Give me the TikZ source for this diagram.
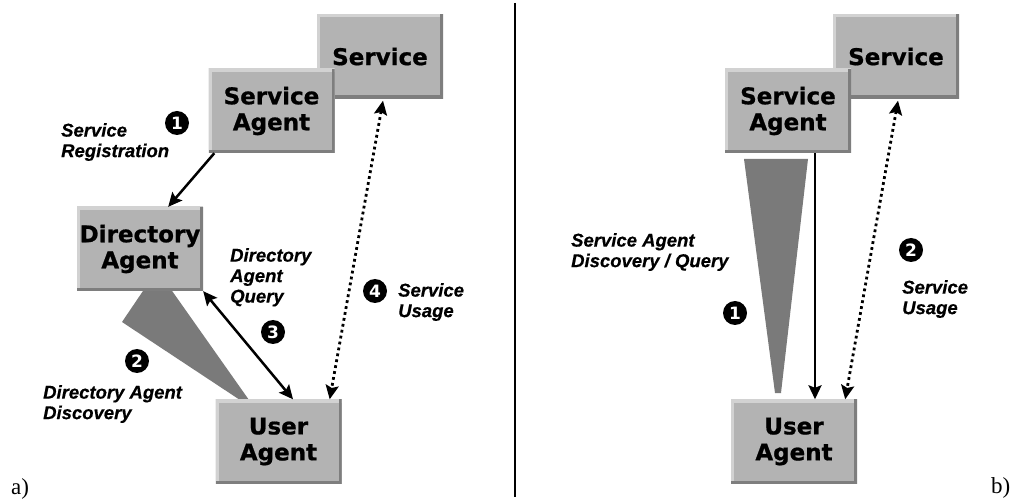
\documentclass[tikz,border=0pt]{standalone}
\usepackage{fontspec}
\usetikzlibrary{arrows.meta,calc}
\newfontfamily\dvfont{DejaVu Sans}[FakeBold=0.8]
\newfontfamily\libfont{Liberation Sans}[FakeBold=0.5]
\newfontfamily\numfont{DejaVu Sans}
\newfontfamily\serfont{Liberation Serif}
\definecolor{boxgray}{HTML}{B3B3B3}
\definecolor{boxlight}{HTML}{D2D2D2}
\definecolor{boxdark}{HTML}{7E7E7E}
\definecolor{wedgegray}{HTML}{7A7A7A}
\begin{document}
\begin{tikzpicture}[x=1bp,y=-1bp,
  box/.style={fill=boxgray, minimum width=126bp, minimum height=84bp, inner sep=0pt,
    align=center, font=\dvfont\bfseries\fontsize{23bp}{26bp}\selectfont,
    path picture={
      \draw[boxlight, line width=6bp] (path picture bounding box.south west) -- (path picture bounding box.north west) -- (path picture bounding box.north east);
      \draw[boxdark, line width=6bp] (path picture bounding box.north east) -- (path picture bounding box.south east) -- (path picture bounding box.south west);
    }},
  lbl/.style={anchor=north west, inner sep=0pt, align=left,
    font=\libfont\bfseries\itshape\fontsize{18.5bp}{20.5bp}\selectfont},
  num/.style={circle, fill=black, minimum size=24bp, inner sep=0pt, text=white,
    font=\numfont\bfseries\fontsize{17bp}{17bp}\selectfont},
  tag/.style={anchor=base west, inner sep=0pt, font=\serfont\fontsize{23bp}{23bp}\selectfont},
  tip/.tip={Stealth[length=14bp,width=13bp,inset=2.5bp]},
  arr/.style={line width=2.5bp, -tip},
  darr/.style={line width=2.5bp, tip-tip},
  dotarr/.style={line width=2.8bp, dash pattern=on 2.8bp off 3.2bp, tip-tip},
  wedge/.style={fill=wedgegray}
]
\useasboundingbox (0,0) rectangle (1016,503);
\fill[white] (0,0) rectangle (1016,503);

% divider
\coordinate (dtop) at (515,3);
\coordinate (dbot) at (515,497);
\draw[line width=2.2bp] (dtop) -- (dbot);

% ---------- panel a ----------
\fill[wedge] (122,322) -- (145,288) -- (170,288) -- (249,400) -- (240,400) -- cycle;

\node[box] (svc) at (380,56.5) {Service};
\node[box] (sa) at (271.5,111) {Service\\Agent};
\node[box] (da) at (140,249) {Directory\\Agent};
\node[box] (ua) at (278.5,441.5) {User\\Agent};

\draw[arr] ($(sa.south west)+(6,0)$) -- ($(da.north east)+(-35,0)$);
\draw[darr] (da.south east) -- ($(ua.north)+(14.5,0)$);
\draw[dotarr] ($(svc.south)+(3,2)$) -- ($(ua.north east)+(-12,0)$);

\node[lbl] (l1) at (61,123) {Service\\Registration};
\node[lbl] (l2) at (230,248) {Directory\\Agent\\Query};
\node[lbl] (l3) at (43,385) {Directory Agent\\Discovery};
\node[lbl] (l4) at (398,283) {Service\\Usage};

\node[num] (n1) at (177,123) {1};
\node[num] (n2) at (137,361) {2};
\node[num] (n3) at (273,332) {3};
\node[num] (n4) at (375,291) {4};

\node[tag] (ta) at (11,494) {a)};

% ---------- panel b ----------
\fill[wedge] (744,159) -- (808,159) -- (781,393) -- (775,393) -- cycle;

\node[box] (svc2) at (896,56.5) {Service};
\node[box] (sa2) at (788,111) {Service\\Agent};
\node[box] (ua2) at (794,441.5) {User\\Agent};

\draw[arr] ($(sa2.south)+(27,0)$) -- ($(ua2.north)+(21,0)$);
\draw[dotarr] ($(svc2.south)+(2,2)$) -- ($(ua2.north east)+(-12,0)$);

\node[lbl] (l5) at (571,233) {Service Agent\\Discovery / Query};
\node[lbl] (l6) at (902,280) {Service\\Usage};

\node[num] (m1) at (735,313) {1};
\node[num] (m2) at (911,250) {2};

\node[tag] (tb) at (991,493) {b)};
\end{tikzpicture}
\end{document}
